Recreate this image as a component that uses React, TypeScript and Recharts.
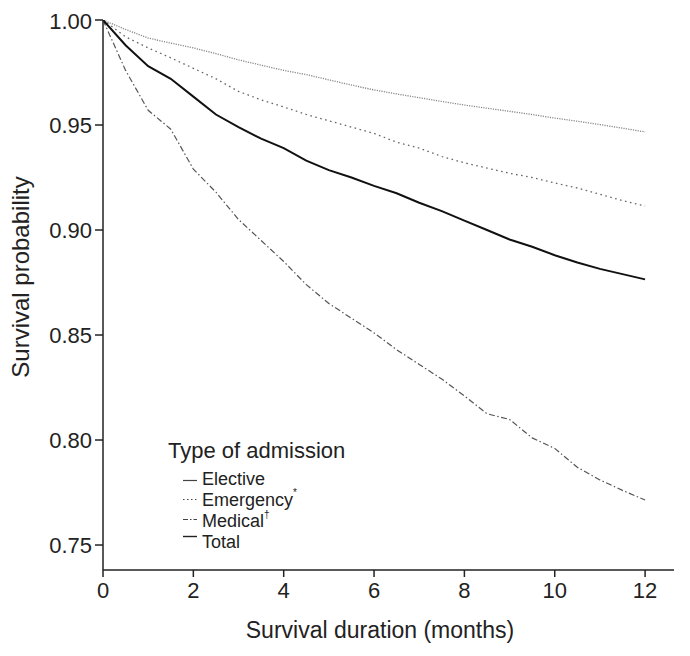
import React from "react";
import { LineChart, Line, XAxis, YAxis } from "recharts";

const months = [0, 0.5, 1, 1.5, 2, 2.5, 3, 3.5, 4, 4.5, 5, 5.5, 6, 6.5, 7, 7.5, 8, 8.5, 9, 9.5, 10, 10.5, 11, 11.5, 12];
const elective = [1.0, 0.9955, 0.9914, 0.989, 0.9867, 0.984, 0.981, 0.9785, 0.976, 0.974, 0.9715, 0.969, 0.9667, 0.9648, 0.963, 0.9612, 0.9595, 0.958, 0.9565, 0.955, 0.9533, 0.9518, 0.9502, 0.9485, 0.9467];
const emergency = [1.0, 0.992, 0.9867, 0.982, 0.977, 0.972, 0.966, 0.962, 0.9586, 0.955, 0.952, 0.949, 0.946, 0.9418, 0.939, 0.935, 0.932, 0.9295, 0.927, 0.925, 0.9224, 0.92, 0.917, 0.914, 0.9114];
const medical = [1.0, 0.976, 0.957, 0.948, 0.929, 0.918, 0.905, 0.895, 0.885, 0.874, 0.865, 0.858, 0.851, 0.843, 0.836, 0.829, 0.821, 0.8125, 0.8098, 0.801, 0.796, 0.787, 0.781, 0.776, 0.7714];
const total = [1.0, 0.988, 0.978, 0.972, 0.9635, 0.955, 0.949, 0.9435, 0.939, 0.933, 0.9285, 0.925, 0.921, 0.9175, 0.913, 0.909, 0.9045, 0.9, 0.8955, 0.892, 0.888, 0.8845, 0.8815, 0.879, 0.8765];

const xTicks = [0, 2, 4, 6, 8, 10, 12];
const yTicks = [0.75, 0.8, 0.85, 0.9, 0.95, 1.0];

const data = months.map((m, i) => ({
  month: m,
  elective: elective[i],
  emergency: emergency[i],
  medical: medical[i],
  total: total[i],
}));

const FONT = "'Liberation Sans', Arial, sans-serif";
const AXIS = "#222";

export default function App() {
  return (
    <div style={{ position: "relative", width: 682, height: 648 }}>
      <LineChart
        width={682}
        height={648}
        data={data}
        margin={{ top: 12, right: 16, left: 0, bottom: 0 }}
      >
        <XAxis
          dataKey="month"
          type="number"
          domain={[0, 12.64]}
          ticks={xTicks}
          allowDataOverflow
          height={86}
          tickSize={7}
          tickMargin={5}
          stroke={AXIS}
          strokeWidth={1.5}
          tick={{ fill: AXIS, fontSize: 22, fontFamily: FONT }}
        />
        <YAxis
          type="number"
          domain={[0.7381, 1.0]}
          ticks={yTicks}
          allowDataOverflow
          width={95}
          tickSize={8}
          tickMargin={3}
          stroke={AXIS}
          strokeWidth={1.5}
          tickFormatter={(v: number) => v.toFixed(2)}
          tick={{ fill: AXIS, fontSize: 22, fontFamily: FONT }}
        />
        <Line dataKey="elective" type="linear" stroke="#888" strokeWidth={1.3} strokeDasharray="1.2 1.2" dot={false} isAnimationActive={false} />
        <Line dataKey="emergency" type="linear" stroke="#666" strokeWidth={1.3} strokeDasharray="1.6 3.5" dot={false} isAnimationActive={false} />
        <Line dataKey="medical" type="linear" stroke="#555" strokeWidth={1.2} strokeDasharray="6 2.5 1.5 2.5" dot={false} isAnimationActive={false} />
        <Line dataKey="total" type="linear" stroke="#111" strokeWidth={2} dot={false} isAnimationActive={false} />
      </LineChart>
      <svg
        width={682}
        height={648}
        style={{ position: "absolute", left: 0, top: 0, pointerEvents: "none" }}
      >
        <g transform="translate(-8,-8)" fontFamily={FONT} fill={AXIS}>
          <text x={380} y={638} fontSize={23} textAnchor="middle">Survival duration (months)</text>
          <text x={29} y={277} fontSize={24} textAnchor="middle" transform="rotate(-90 29 277)">Survival probability</text>
          <text x={168} y={458} fontSize={22}>Type of admission</text>
          <line x1={183} x2={197} y1={480.5} y2={480.5} stroke="#444" strokeWidth={1.2} />
          <text x={202} y={485} fontSize={18}>Elective</text>
          <line x1={183} x2={197} y1={499.5} y2={499.5} stroke="#444" strokeWidth={1.2} strokeDasharray="1.5 2.5" />
          <text x={202} y={506} fontSize={18}>Emergency<tspan fontSize={10} dy={-10}>*</tspan></text>
          <line x1={183} x2={197} y1={519.5} y2={519.5} stroke="#444" strokeWidth={1.2} strokeDasharray="5 2 1.5 2" />
          <text x={202} y={527} fontSize={18}>Medical<tspan fontSize={10} dy={-9}>†</tspan></text>
          <line x1={183} x2={197} y1={536.5} y2={536.5} stroke="#222" strokeWidth={1.4} />
          <text x={202} y={548} fontSize={18}>Total</text>
        </g>
      </svg>
    </div>
  );
}
